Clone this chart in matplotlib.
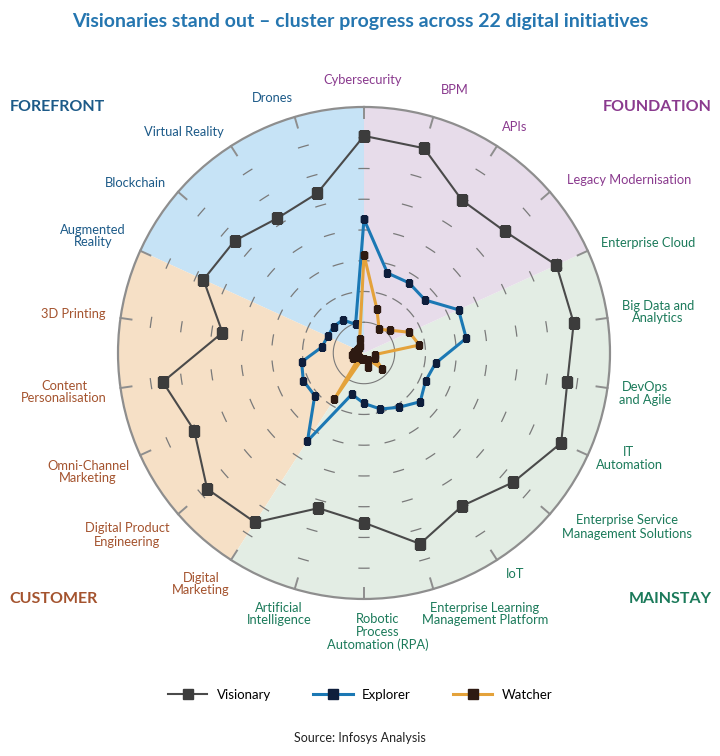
import numpy as np
import matplotlib
matplotlib.use("Agg")
import matplotlib.pyplot as plt
from matplotlib.lines import Line2D

plt.rcParams['font.family'] = ['Lato', 'DejaVu Sans']

# categories go counter-clockwise starting at the top
categories = ["Cybersecurity", "Drones", "Virtual Reality", "Blockchain", "Augmented\nReality",
              "3D Printing", "Content\nPersonalisation", "Omni-Channel\nMarketing",
              "Digital Product\nEngineering", "Digital\nMarketing", "Artificial\nIntelligence",
              "Robotic\nProcess\nAutomation (RPA)", "Enterprise Learning\nManagement Platform", "IoT",
              "Enterprise Service\nManagement Solutions", "IT\nAutomation", "DevOps\nand Agile",
              "Big Data and\nAnalytics", "Enterprise Cloud", "Legacy Modernisation", "APIs", "BPM"]
label_group = ["FOUNDATION", "FOREFRONT", "FOREFRONT", "FOREFRONT", "FOREFRONT",
               "CUSTOMER", "CUSTOMER", "CUSTOMER", "CUSTOMER", "CUSTOMER",
               "MAINSTAY", "MAINSTAY", "MAINSTAY", "MAINSTAY", "MAINSTAY", "MAINSTAY", "MAINSTAY",
               "MAINSTAY", "MAINSTAY", "FOUNDATION", "FOUNDATION", "FOUNDATION"]

visionary = [70.6, 54.1, 52.1, 55.7, 57.4, 46.5, 66.1, 60.7, 67.5, 65.5, 52.6,
             55.2, 64.7, 59.1, 64.2, 70.5, 66.8, 68.9, 68.8, 60.5, 59.0, 69.4]
explorer = [43.5, 9.7, 12.8, 13.1, 13.0, 13.8, 20.5, 21.7, 21.2, 34.0, 14.0,
            16.4, 19.0, 21.0, 24.2, 22.0, 23.5, 33.6, 33.8, 26.3, 27.1, 27.1]
watcher = [31.9, 4.9, 2.6, 2.3, 2.6, 3.3, 3.9, 3.9, 2.0, 17.9, 2.0,
           2.0, 4.8, 2.6, 7.8, 3.9, 3.6, 18.2, 16.2, 11.3, 9.1, 14.9]

# sector (cluster) spans, as category index boundaries
groups = ["FOREFRONT", "CUSTOMER", "MAINSTAY", "FOUNDATION"]
group_start = [0, 4, 9, 18]
group_end = [4, 9, 18, 22]

group_fill = {"FOREFRONT": "#c6e3f6", "CUSTOMER": "#f6e0c6",
              "MAINSTAY": "#e3ede4", "FOUNDATION": "#e7dcea"}
group_text = {"FOREFRONT": "#1c5a88", "CUSTOMER": "#a4532e",
              "MAINSTAY": "#1b7a5a", "FOUNDATION": "#8a3a8e"}

n = len(categories)
step = 2 * np.pi / n
theta = np.arange(n) * step
rmax = 80

fig = plt.figure(figsize=(7.2, 7.56), dpi=100)
ax = fig.add_axes([0.1639, 0.2077, 0.6833, 0.6508], projection='polar')
ax.set_theta_offset(np.pi / 2)
ax.set_ylim(0, rmax)
ax.set_xticks([])
ax.set_yticks([])
ax.grid(False)
ax.spines['polar'].set_color('#8e8e8e')
ax.spines['polar'].set_linewidth(1.6)

for g, s, e in zip(groups, group_start, group_end):
    ax.bar((s + e) / 2 * step, rmax, width=(e - s) * step, bottom=0,
           color=group_fill[g], edgecolor='none', zorder=0)

# inner solid ring and dashed rings (short dashes on each spoke)
circ = np.linspace(0, 2 * np.pi, 300)
ax.plot(circ, np.full_like(circ, 10), color='#7a7a7a', lw=0.8, zorder=1)
for r in range(20, 80, 10):
    half = 5 / (r / 10 * 30.75)
    for t in theta:
        seg = np.linspace(t - half, t + half, 5)
        ax.plot(seg, np.full_like(seg, r), color='#7a7a7a', lw=0.9, zorder=1)
for t in theta:
    ax.plot([t, t], [76.4, rmax], color='#8e8e8e', lw=1.4, zorder=1, clip_on=False)

tc = np.append(theta, theta[0])
ax.plot(tc, visionary + visionary[:1], color='#4a4a4a', lw=1.5, marker='s', ms=6.5,
        mfc='#3c3c3c', mec='#3c3c3c', zorder=3)
ax.plot(tc, explorer + explorer[:1], color='#1b78b4', lw=2.2, marker='s', ms=5,
        mfc='#0e1e3c', mec='#0e1e3c', zorder=4)
ax.plot(tc, watcher + watcher[:1], color='#e4a23a', lw=2.2, marker='s', ms=3.8,
        mfc='#2e1a12', mec='#2e1a12', zorder=5)

# category labels (pixel centres)
label_pos = [(363, 80), (272, 98), (184, 132), (135, 183), (93, 236), (73, 314), (64, 392),
             (88, 472), (127, 535), (201, 584), (279, 614), (378, 632), (485, 614), (515, 574),
             (627, 527), (629, 459), (645, 393), (658, 312), (648, 243), (629, 180), (515, 127),
             (455, 90)]
W, H = 720, 756
for lab, g, (px, py) in zip(categories, label_group, label_pos):
    fig.text(px / W, 1 - py / H, lab, ha='center', va='center', multialignment='center',
             fontsize=9.3, color=group_text[g], linespacing=1.1)

group_pos = {"FOREFRONT": (57, 107), "FOUNDATION": (657, 107),
             "CUSTOMER": (53, 599), "MAINSTAY": (670, 599)}
for g, (px, py) in group_pos.items():
    fig.text(px / W, 1 - py / H, g, ha='center', va='center', fontsize=11.5,
             fontweight='bold', color=group_text[g])

fig.text(0.5, 1 - 22 / H, "Visionaries stand out \u2013 cluster progress across 22 digital initiatives",
         ha='center', va='center', fontsize=14, fontweight='bold', color='#2576b0')

handles = [Line2D([], [], color='#4a4a4a', lw=1.5, marker='s', ms=6.5, mfc='#3c3c3c', mec='#3c3c3c'),
           Line2D([], [], color='#1b78b4', lw=2.2, marker='s', ms=6.5, mfc='#0e1e3c', mec='#0e1e3c'),
           Line2D([], [], color='#e4a23a', lw=2.2, marker='s', ms=6.5, mfc='#2e1a12', mec='#2e1a12')]
fig.legend(handles, ["Visionary", "Explorer", "Watcher"], loc='center',
           bbox_to_anchor=(0.5, 1 - 695 / H), ncol=3, frameon=False, fontsize=9.5,
           handlelength=3, columnspacing=3.2, handletextpad=0.7)

fig.text(0.5, 1 - 738 / H, "Source: Infosys Analysis", ha='center', va='center',
         fontsize=9, color='#222222')

fig.savefig("out.png", dpi=100)
plt.close(fig)
